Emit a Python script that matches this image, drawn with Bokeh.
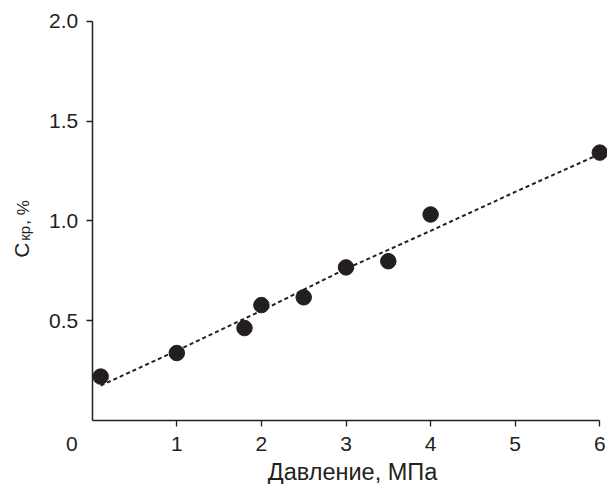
from bokeh.plotting import figure
from bokeh.models import Range1d, FixedTicker, Label
from bokeh.embed import file_html
from bokeh.resources import INLINE
import math

# Measured points
pressure = [0.1, 1.0, 1.8, 2.0, 2.5, 3.0, 3.5, 4.0, 6.0]
c_kr = [0.22, 0.338, 0.463, 0.578, 0.617, 0.767, 0.798, 1.032, 1.342]

# Trend line
trend_x = [0.1, 1.0, 2.0, 3.0, 4.0, 5.0, 6.0]
trend_y = [0.175, 0.35, 0.55, 0.76, 0.95, 1.145, 1.335]

x_ticks = [1, 2, 3, 4, 5, 6]
y_ticks = [0.5, 1.0, 1.5, 2.0]
y_tick_labels = ["0.5", "1.0", "1.5", "2.0"]

x_title = "Давление, МПа"

INK = "#231f20"
FONT = "Liberation Sans"

p = figure(width=607, height=484, x_range=Range1d(-1.084, 6.091), y_range=Range1d(-0.3206, 2.104),
           output_backend="svg", toolbar_location=None,
           min_border_left=0, min_border_right=0, min_border_top=0, min_border_bottom=0)
p.outline_line_color = None
p.xgrid.visible = False
p.ygrid.visible = False
p.background_fill_color = "white"
p.border_fill_color = "white"

p.line(trend_x, trend_y, line_color=INK, line_width=2, line_dash="4 3")
p.scatter(pressure, c_kr, size=15.5, fill_color=INK, line_color=INK)

for ax in (p.xaxis[0], p.yaxis[0]):
    ax.fixed_location = 0
    ax.axis_line_color = INK
    ax.axis_line_width = 1.5
    ax.major_tick_line_color = INK
    ax.major_tick_line_width = 1.3
    ax.major_tick_out = 6
    ax.major_tick_in = 0
    ax.minor_tick_line_color = None
    ax.major_label_text_font = FONT
    ax.major_label_text_font_size = "21px"
    ax.major_label_text_color = INK

p.xaxis.bounds = (0, 6)
p.yaxis.bounds = (0, 2)
p.xaxis.ticker = FixedTicker(ticks=x_ticks)
p.yaxis.ticker = FixedTicker(ticks=y_ticks)
p.yaxis.major_label_overrides = {t: s for t, s in zip(y_ticks, y_tick_labels)}
p.xaxis.major_label_standoff = 10
p.yaxis.major_label_standoff = 8

# origin label "0"
p.add_layout(Label(x=-0.241, y=0, text="0", text_font=FONT, text_font_size="21px",
                   text_color=INK, text_align="center", text_baseline="top", y_offset=-16))

# x-axis title
p.add_layout(Label(x=3.077, y=-0.26, text=x_title, text_font=FONT, text_font_size="23.5px",
                   text_color=INK, text_align="center", text_baseline="middle"))

# y-axis title: C_кр, %
yl_x = -0.83
yl_y = 0.815
p.add_layout(Label(x=yl_x, y=yl_y, text="C", angle=math.pi / 2, text_font=FONT,
                   text_font_size="21px", text_color=INK, text_align="left",
                   text_baseline="alphabetic"))
p.add_layout(Label(x=yl_x, y=yl_y, text="кр", angle=math.pi / 2, text_font=FONT,
                   text_font_size="15px", text_color=INK, text_align="left",
                   text_baseline="alphabetic", x_offset=2.5, y_offset=17))
p.add_layout(Label(x=yl_x, y=yl_y, text=", %", angle=math.pi / 2, text_font=FONT,
                   text_font_size="17px", text_color=INK, text_align="left",
                   text_baseline="alphabetic", x_offset=1.5, y_offset=33))

open("out.html", "w").write(file_html(p, INLINE))
